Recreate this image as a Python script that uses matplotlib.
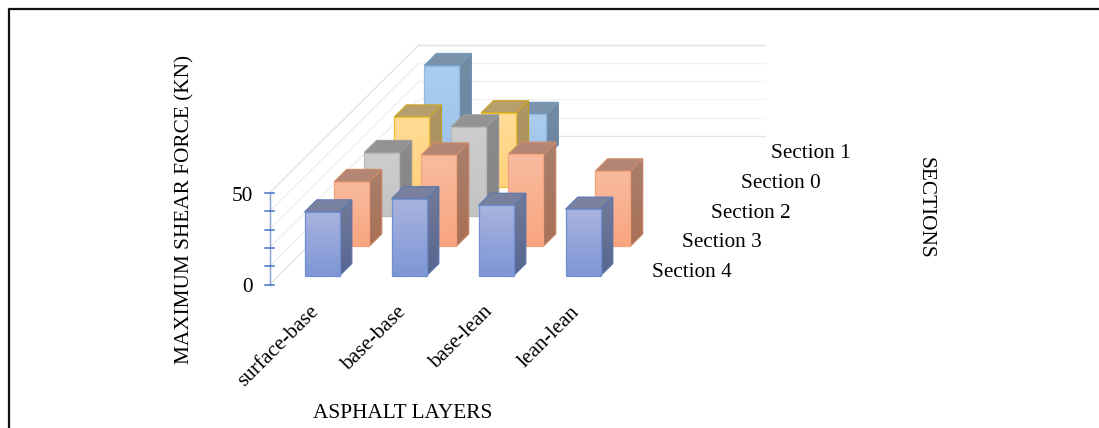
import numpy as np
import matplotlib
matplotlib.use('Agg')
import matplotlib.pyplot as plt
from matplotlib.colors import to_rgb
from matplotlib.patches import Polygon

plt.rcParams['font.family'] = ['Liberation Serif', 'DejaVu Serif']

categories = ['surface-base', 'base-base', 'base-lean', 'lean-lean']
sections = ['Section 4', 'Section 3', 'Section 2', 'Section 0', 'Section 1']

section_4 = [34.8, 42.0, 38.4, 36.3]
section_3 = [35.2, 49.7, 50.1, 41.0]
section_2 = [34.8, 48.8, np.nan, np.nan]
section_0 = [38.0, 40.3, np.nan, np.nan]
section_1 = [49.9, 23.2, np.nan, np.nan]
series = [section_4, section_3, section_2, section_0, section_1]

y_ticks = [0, 10, 20, 30, 40, 50]
y_labels = {0: '0', 50: '50'}

# (top of face, bottom of face, edge) per series
colors = [('#a9b4de', '#7e96d6', '#6f8fd0'),
          ('#f8bb9f', '#f9a57f', '#f4a37c'),
          ('#cdcdcd', '#c4c4c4', '#b8b8b8'),
          ('#ffdc98', '#ffd27c', '#f2c22e'),
          ('#aacdee', '#9ec3ea', '#8fb8e4')]

# oblique projection, in figure pixels
X0, Y0 = 269.7, 284.5
CAT_W = 87.0
DEPTH_DX, DEPTH_DY = 29.9, 29.7
PX_PER_UNIT = 1.83
BAR_W = 35.0
BAR_D = 0.41
N_CAT = 4
N_SEC = 5
FONT = 15.3


def project(x, d, v):
    # x in categories, d in sections, v in kN
    return (X0 + x * CAT_W + d * DEPTH_DX,
            Y0 - d * DEPTH_DY - v * PX_PER_UNIT)


def shade(c, f):
    return tuple(np.array(to_rgb(c)) * f)


def grad_poly(ax, pts, top, bottom, edge, z):
    # polygon with a vertical colour ramp
    pts = np.array(pts)
    x0, x1 = pts[:, 0].min(), pts[:, 0].max()
    y0, y1 = pts[:, 1].min(), pts[:, 1].max()
    ramp = np.linspace(0, 1, 64)[:, None, None]
    img = (1 - ramp) * np.array(to_rgb(top)) + ramp * np.array(to_rgb(bottom))
    im = ax.imshow(img, extent=(x0, x1, y1, y0), aspect='auto', zorder=z,
                   interpolation='bilinear')
    clip = Polygon(pts, closed=True, transform=ax.transData)
    im.set_clip_path(clip)
    ax.add_patch(Polygon(pts, closed=True, fc='none', ec=edge, lw=0.9, zorder=z))


def draw_bar(ax, i, s, value, cols, z):
    top, bottom, edge = cols
    x_w = BAR_W / CAT_W
    xa = i + (1 - x_w) / 2
    xb = xa + x_w
    da = s + (1 - BAR_D) / 2
    db = da + BAR_D
    front = [project(xa, da, value), project(xb, da, value),
             project(xb, da, 0), project(xa, da, 0)]
    side = [project(xb, da, value), project(xb, db, value),
            project(xb, db, 0), project(xb, da, 0)]
    cap = [project(xa, da, value), project(xa, db, value),
           project(xb, db, value), project(xb, da, value)]
    grad_poly(ax, side, shade(top, 0.68), shade(bottom, 0.68), shade(edge, 0.8), z)
    grad_poly(ax, cap, shade(top, 0.72), shade(top, 0.72), shade(edge, 0.85), z + 0.1)
    grad_poly(ax, front, top, bottom, edge, z + 0.2)


fig = plt.figure(figsize=(10.99, 4.28), dpi=100)
ax = fig.add_axes([0, 0, 1, 1])
ax.set_xlim(0, 1099)
ax.set_ylim(428, 0)
ax.axis('off')

# outer frame, runs off the right and bottom edges
ax.plot([8.5, 8.5, 1099], [428, 8.5, 8.5], color='#111111', lw=1.6, zorder=1)

# walls: outer lines a little stronger than the inner ones
for v in y_ticks:
    p0 = project(0, 0, v)
    p1 = project(0, N_SEC, v)
    p2 = project(N_CAT - 0.02, N_SEC, v)
    outer = v in (0, 50)
    ax.plot([p0[0], p1[0]], [p0[1], p1[1]],
            color='#dedede' if outer else '#ececec', lw=0.8, zorder=1)
    ax.plot([p1[0], p2[0]], [p1[1], p2[1]],
            color='#e2e2e2' if outer else '#f1f1f1', lw=1.0, zorder=1)

# value axis
p_low = project(0, 0, 0)
p_high = project(0, 0, 50)
ax.plot([p_low[0], p_high[0]], [p_low[1], p_high[1]], color='#7f9fd8', lw=1.0, zorder=2)
for v in y_ticks:
    px, py = project(0, 0, v)
    ax.plot([px - 4.5, px + 4], [py, py], color='#4472c4', lw=1.1, zorder=2)
    if v in y_labels:
        ax.text(px - 17, py + 3, y_labels[v], ha='right', va='center', fontsize=FONT)

# bars, back to front
for s in range(N_SEC - 1, -1, -1):
    for i in range(N_CAT):
        if not np.isnan(series[s][i]):
            draw_bar(ax, i, s, series[s][i], colors[s], 10 + (N_SEC - s) * 10 + i)

# category labels
for i, name in enumerate(categories):
    px, py = project(i + 0.5, 0, 0)
    ax.text(px - 4, py + 18, name, rotation=45, rotation_mode='anchor',
            ha='right', va='top', fontsize=FONT)

# section labels along the depth axis
for s, name in enumerate(sections):
    px, py = project(N_CAT, s + 0.5, 0)
    ax.text(px + 19, py + 3, name, ha='left', va='center', fontsize=FONT)

ax.text(185, 210, 'MAXIMUM SHEAR FORCE (KN)', rotation=90, ha='center', va='center', fontsize=FONT)
ax.text(403, 413, 'ASPHALT LAYERS', ha='center', va='center', fontsize=FONT)
ax.text(925, 208, 'SECTIONS', rotation=-90, ha='center', va='center', fontsize=FONT)

ax.set_xlim(0, 1099)
ax.set_ylim(428, 0)
fig.savefig('out.png', dpi=100)
